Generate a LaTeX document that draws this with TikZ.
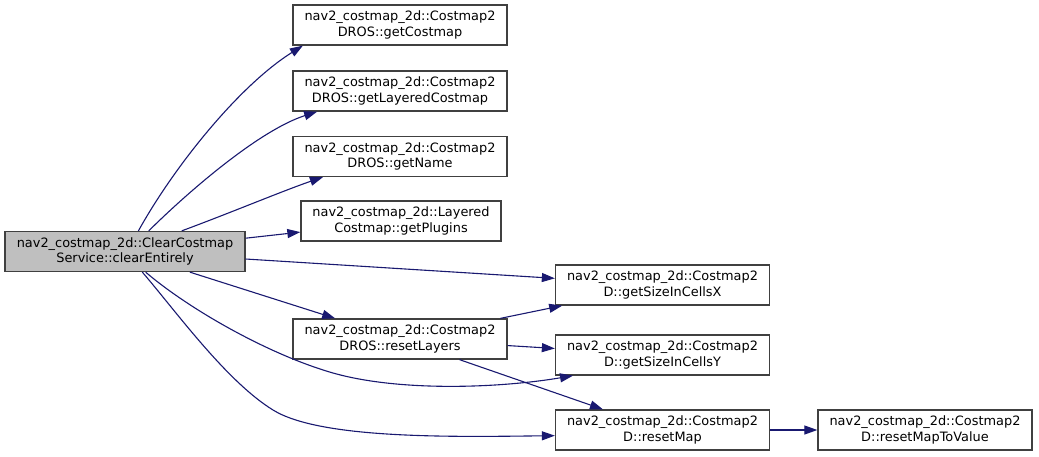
\documentclass[tikz,border=0pt]{standalone}
\usepackage{fontspec}
\setmainfont{DejaVu Sans}
\usetikzlibrary{arrows.meta}
\definecolor{edgeblue}{HTML}{191970}
\definecolor{boxline}{HTML}{404040}
\definecolor{mainfill}{HTML}{BFBFBF}
\begin{document}
\begin{tikzpicture}[x=1pt,y=-1pt,
  fn/.style={draw=boxline,line width=1.3pt,fill=white,inner sep=0pt,
    minimum width=214pt,minimum height=40pt,align=center,
    font=\fontsize{12.9}{15.5}\selectfont},
  call/.style={draw=edgeblue,line width=1.1pt,
    -{Triangle[length=13pt,width=9pt,fill=edgeblue]}}]
\useasboundingbox (0,0) rectangle (1039,456);
\node[fn,fill=mainfill,minimum width=240pt] (main) at (125,251.5) {nav2\_costmap\_2d::ClearCostmap\\Service::clearEntirely};
\node[fn] (gc) at (400,25) {nav2\_costmap\_2d::Costmap2\\DROS::getCostmap};
\node[fn] (glc) at (400,91) {nav2\_costmap\_2d::Costmap2\\DROS::getLayeredCostmap};
\node[fn] (gn) at (400,156.5) {nav2\_costmap\_2d::Costmap2\\DROS::getName};
\node[fn,minimum width=200pt] (gp) at (401,221) {nav2\_costmap\_2d::Layered\\Costmap::getPlugins};
\node[fn] (rl) at (400,339) {nav2\_costmap\_2d::Costmap2\\DROS::resetLayers};
\node[fn] (sx) at (662.5,285) {nav2\_costmap\_2d::Costmap2\\D::getSizeInCellsX};
\node[fn] (sy) at (662.5,355) {nav2\_costmap\_2d::Costmap2\\D::getSizeInCellsY};
\node[fn] (rm) at (662.5,430) {nav2\_costmap\_2d::Costmap2\\D::resetMap};
\node[fn] (rmv) at (925,430) {nav2\_costmap\_2d::Costmap2\\D::resetMapToValue};

\draw[call] (main.57) .. controls (175,165) and (240,85) .. (gc.192.8);
\draw[call] (main.41) .. controls (190,190) and (260,130) .. (glc.194);
\draw[call] (main.20) .. controls (230,213) and (285,190) .. (gn.195.6);
\draw[call] (main) -- (gp);
\draw[call] (main) -- (sx);
\draw[call] (main) -- (rl);
\draw[call] (main.315) .. controls (190,310) and (270,355) .. (333,373)
   .. controls (400,392) and (500,388) .. (sy.193.3);
\draw[call] (main.310) .. controls (175,310) and (226,381) .. (273,410)
   .. controls (320,439) and (450,437) .. (rm.183.7);
\draw[call] (rl) -- (sx);
\draw[call] (rl) -- (sy);
\draw[call] (rl) -- (rm);
\draw[call] (rm) -- (rmv);
\end{tikzpicture}
\end{document}
